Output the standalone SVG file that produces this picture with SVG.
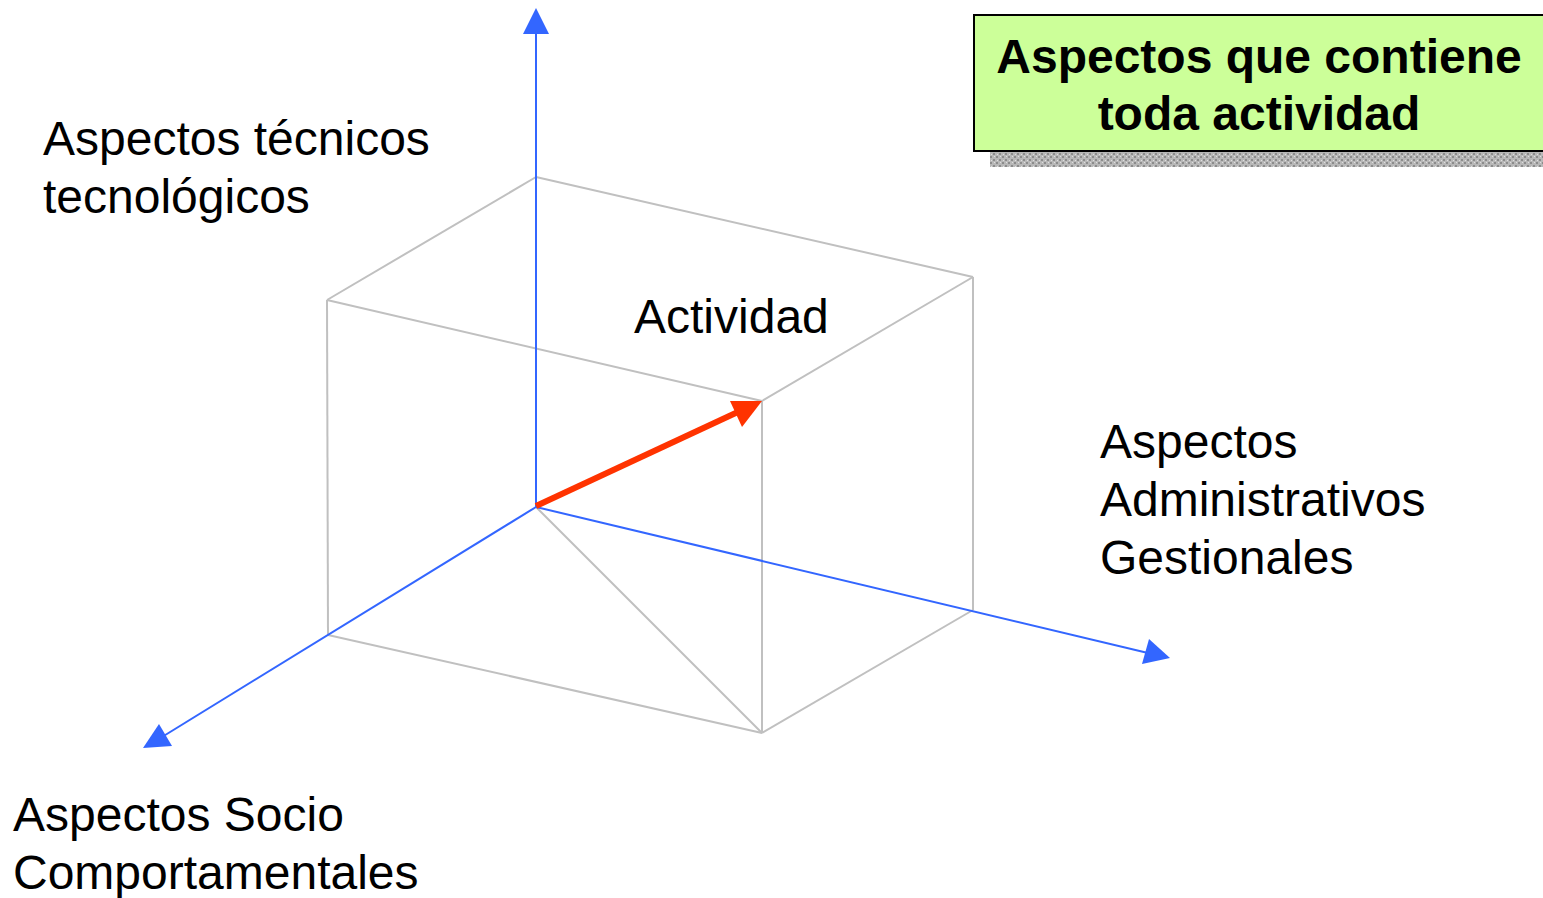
<svg xmlns="http://www.w3.org/2000/svg" width="1543" height="898" viewBox="0 0 1543 898">
<style>
.lbl{font-family:"Liberation Sans",Arial,sans-serif;font-size:48px;fill:#000}
.ttl{font-family:"Liberation Sans",Arial,sans-serif;font-size:48px;font-weight:bold;fill:#000}
.edge{stroke:#c0c0c0;stroke-width:2;fill:none}
.axis{stroke:#3366ff;stroke-width:2;fill:none}
</style>
<defs>
<pattern id="hatch" width="6" height="6" patternUnits="userSpaceOnUse">
<rect width="6" height="6" fill="#b8b8b8"/>
<rect x="0" y="0" width="2" height="2" fill="#8c8c8c"/>
<rect x="3" y="3" width="2" height="2" fill="#8c8c8c"/>
<rect x="4" y="0" width="1" height="1" fill="#e0e0e0"/>
<rect x="1" y="4" width="1" height="1" fill="#e0e0e0"/>
</pattern>
</defs>
<rect width="1543" height="898" fill="#fff"/>
<g id="connectors">
<g id="cube">
<line class="edge" x1="536" y1="177" x2="327" y2="300"/>
<line class="edge" x1="536" y1="177" x2="973" y2="277"/>
<line class="edge" x1="327" y1="300" x2="762" y2="401"/>
<line class="edge" x1="973" y1="277" x2="762" y2="401"/>
<line class="edge" x1="327" y1="300" x2="328" y2="635"/>
<line class="edge" x1="973" y1="277" x2="973" y2="610"/>
<line class="edge" x1="762" y1="401" x2="762" y2="733"/>
<line class="edge" x1="328" y1="635" x2="762" y2="733"/>
<line class="edge" x1="973" y1="610" x2="762" y2="733"/>
<line class="edge" x1="536" y1="507" x2="762" y2="733"/>
</g>
<g id="axes">
<line class="axis" x1="536" y1="507" x2="536" y2="32"/>
<polygon points="536,8 523,34 549,34" fill="#3366ff"/>
<line class="axis" x1="536" y1="507" x2="1148" y2="653"/>
<polygon points="1170,658 1149,639 1142,664" fill="#3366ff"/>
<line class="axis" x1="536" y1="507" x2="162" y2="737"/>
<polygon points="143,748 159,724 172,746" fill="#3366ff"/>
</g>
<g id="vector">
<line x1="536" y1="506" x2="740" y2="411" stroke="#ff3300" stroke-width="6"/>
<polygon points="762,401 730,401 742,427" fill="#ff3300"/>
</g>
</g>
<g id="title">
<rect x="990" y="151" width="553" height="16" fill="url(#hatch)"/>
<rect x="974" y="15" width="580" height="136" fill="#ccff99" stroke="#000" stroke-width="2"/>
<text class="ttl" x="1259" y="73" text-anchor="middle">Aspectos que contiene</text>
<text class="ttl" x="1259" y="130" text-anchor="middle">toda actividad</text>
</g>
<g id="label-tecnicos">
<text class="lbl" x="43" y="155">Aspectos técnicos</text>
<text class="lbl" x="43" y="213">tecnológicos</text>
</g>
<g id="label-actividad">
<text class="lbl" x="634" y="333">Actividad</text>
</g>
<g id="label-administrativos">
<text class="lbl" x="1100" y="458">Aspectos</text>
<text class="lbl" x="1100" y="516">Administrativos</text>
<text class="lbl" x="1100" y="574">Gestionales</text>
</g>
<g id="label-socio">
<text class="lbl" x="13" y="831">Aspectos Socio</text>
<text class="lbl" x="13" y="889">Comportamentales</text>
</g>
</svg>
